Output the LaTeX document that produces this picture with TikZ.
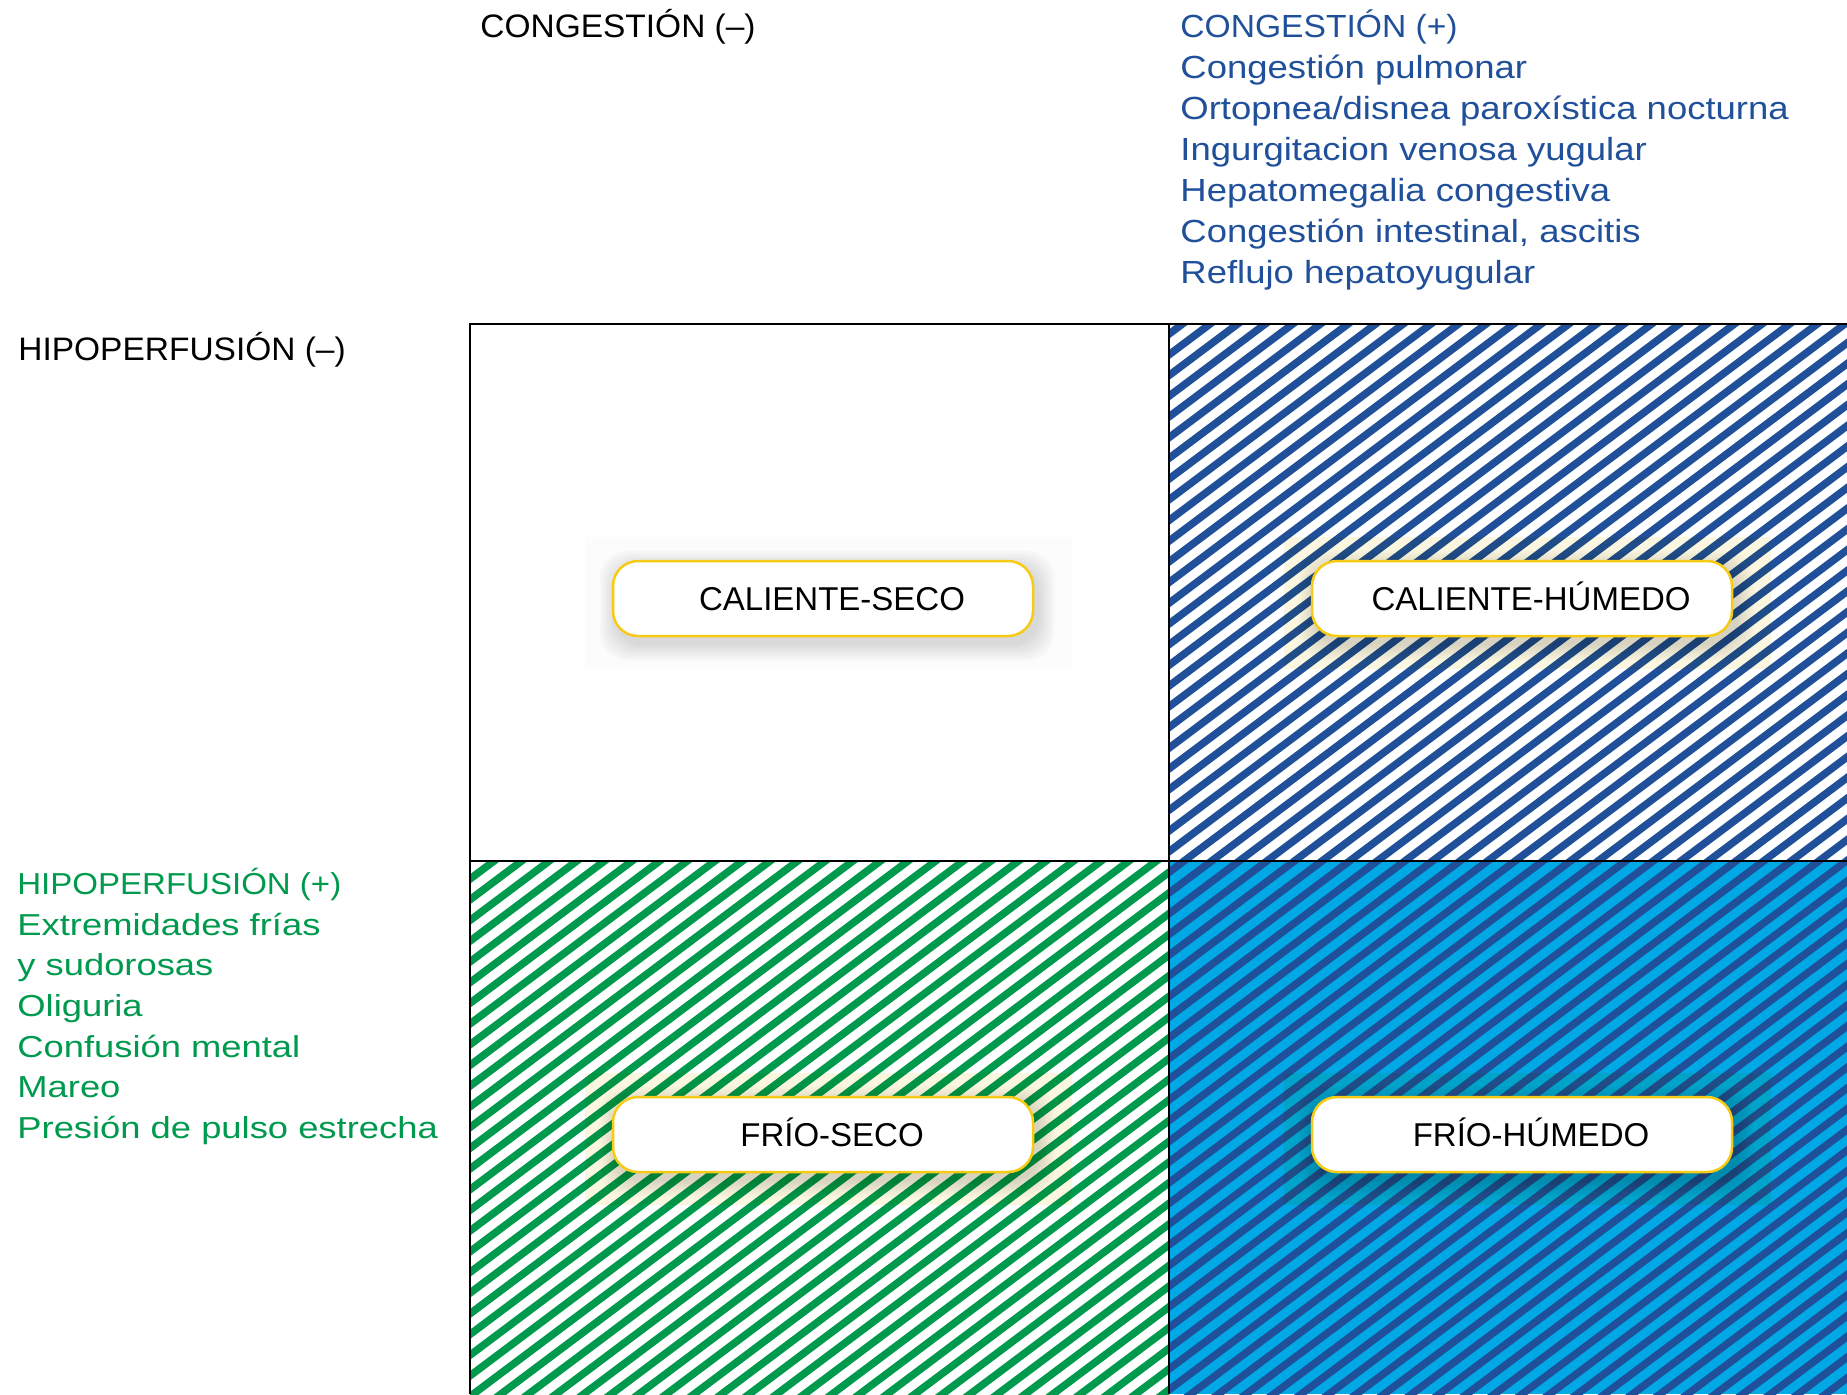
\documentclass[tikz,border=0pt]{standalone}
\usepackage{fontspec}
\setmainfont{Liberation Sans}
\newfontfamily\capsfont[FakeStretch=1.03]{Liberation Sans}
\newfontfamily\bluecapsfont[FakeStretch=1.05]{Liberation Sans}
\newfontfamily\bluefont[FakeStretch=1.14]{Liberation Sans}
\newfontfamily\greencapsfont[FakeStretch=1.09]{Liberation Sans}
\newfontfamily\greenfont[FakeStretch=1.2]{Liberation Sans}
\definecolor{dblue}{HTML}{21509B}
\definecolor{cyanbg}{HTML}{00A9E6}
\definecolor{dgreen}{HTML}{009A4E}
\definecolor{byellow}{HTML}{F7CB15}
\definecolor{creamtint}{HTML}{FBF6E0}
\definecolor{graytint}{HTML}{FCFCFC}
\newcommand\mystatebox[5]{% name, cx, cy, text, tint colour
  \fill[#5, blend mode=multiply] ({#2-238},{#3-62}) rectangle ({#2+249},{#3+70});
  \foreach \i in {1,...,7}
    \fill[black, opacity=0.02, rounded corners=14pt]
      ({#2-210+4-\i*2.5},{#3-37.5+7-\i*2.5}) rectangle ({#2+210+4+\i*2.5},{#3+37.5+7+\i*2.5});
  \node[statebox] (#1) at (#2,#3) {\hspace*{9pt}#4};
}
\begin{document}
\begin{tikzpicture}[x=0.5pt,y=-0.5pt,
  stripeline/.style={line width=3.75pt, line cap=butt},
  gridline/.style={line width=1.1pt, draw=black},
  statebox/.style={draw=byellow, line width=1.25pt, fill=white, rounded corners=12.5pt,
    minimum width=210pt, minimum height=37.5pt, inner sep=0pt,
    font=\fontsize{16.5}{18}\selectfont, text height=11.8pt, text depth=0pt},
  hdr/.style={anchor=base west, inner sep=0pt, font=\capsfont\fontsize{16.25}{18}\selectfont},
  bluecap/.style={anchor=base west, inner sep=0pt, text=dblue, font=\bluecapsfont\fontsize{16}{18}\selectfont},
  blueline/.style={anchor=base west, inner sep=0pt, text=dblue, font=\bluefont\fontsize{16}{18}\selectfont},
  greencap/.style={anchor=base west, inner sep=0pt, text=dgreen, font=\greencapsfont\fontsize{15.15}{18}\selectfont},
  greenline/.style={anchor=base west, inner sep=0pt, text=dgreen, font=\greenfont\fontsize{15.15}{18}\selectfont}
]
\useasboundingbox (0,0) rectangle (1847,1394);
\fill[white] (0,0) rectangle (1847,1394);

% top-right quadrant: blue stripes on white
\begin{scope}
  \clip (1169,324) rectangle (1847,861);
  \foreach \k in {0,...,125}
    \draw[stripeline, draw=dblue] (400,{\k*20.7}) -- ++(1500,-1125);
\end{scope}
% bottom-left quadrant: green stripes on white
\begin{scope}
  \clip (470,861) rectangle (1169,1394);
  \foreach \k in {0,...,125}
    \draw[stripeline, draw=dgreen] (400,{\k*20.7}) -- ++(1500,-1125);
\end{scope}
% bottom-right quadrant: dark blue stripes on cyan
\begin{scope}
  \clip (1169,861) rectangle (1847,1394);
  \fill[cyanbg] (1169,861) rectangle (1847,1394);
  \foreach \k in {0,...,125}
    \draw[stripeline, draw=dblue] (400,{\k*20.7}) -- ++(1500,-1125);
\end{scope}

% grid
\draw[gridline] (1847,324) -- (470,324) -- (470,1394);
\draw[gridline] (1169,324) -- (1169,1394);
\draw[gridline] (470,861) -- (1847,861);

% state boxes
\mystatebox{cs}{823}{598.5}{CALIENTE-SECO}{graytint}
\mystatebox{ch}{1522}{598.5}{CALIENTE-HÚMEDO}{creamtint}
\mystatebox{fs}{823}{1134.5}{FRÍO-SECO}{creamtint}
\mystatebox{fh}{1522}{1134.5}{FRÍO-HÚMEDO}{creamtint}

% headers
\node[hdr] (congneg) at (480,37) {CONGESTIÓN (–)};
\node[hdr] (hiponeg) at (18,360) {HIPOPERFUSIÓN (–)};

\node[bluecap] (congpos) at (1180,37) {CONGESTIÓN (+)};
\node[blueline] (b1) at (1180,78) {Congestión pulmonar};
\node[blueline] (b2) at (1180,119) {Ortopnea/disnea paroxística nocturna};
\node[blueline] (b3) at (1180,160) {Ingurgitacion venosa yugular};
\node[blueline] (b4) at (1180,201) {Hepatomegalia congestiva};
\node[blueline] (b5) at (1180,242) {Congestión intestinal, ascitis};
\node[blueline] (b6) at (1180,283) {Reflujo hepatoyugular};

\node[greencap] (hipopos) at (17,894) {HIPOPERFUSIÓN (+)};
\node[greenline] (g1) at (17,935) {Extremidades frías};
\node[greenline] (g2) at (17,975.5) {y sudorosas};
\node[greenline] (g3) at (17,1016) {Oliguria};
\node[greenline] (g4) at (17,1057) {Confusión mental};
\node[greenline] (g5) at (17,1097) {Mareo};
\node[greenline] (g6) at (17,1138) {Presión de pulso estrecha};
\end{tikzpicture}
\end{document}
